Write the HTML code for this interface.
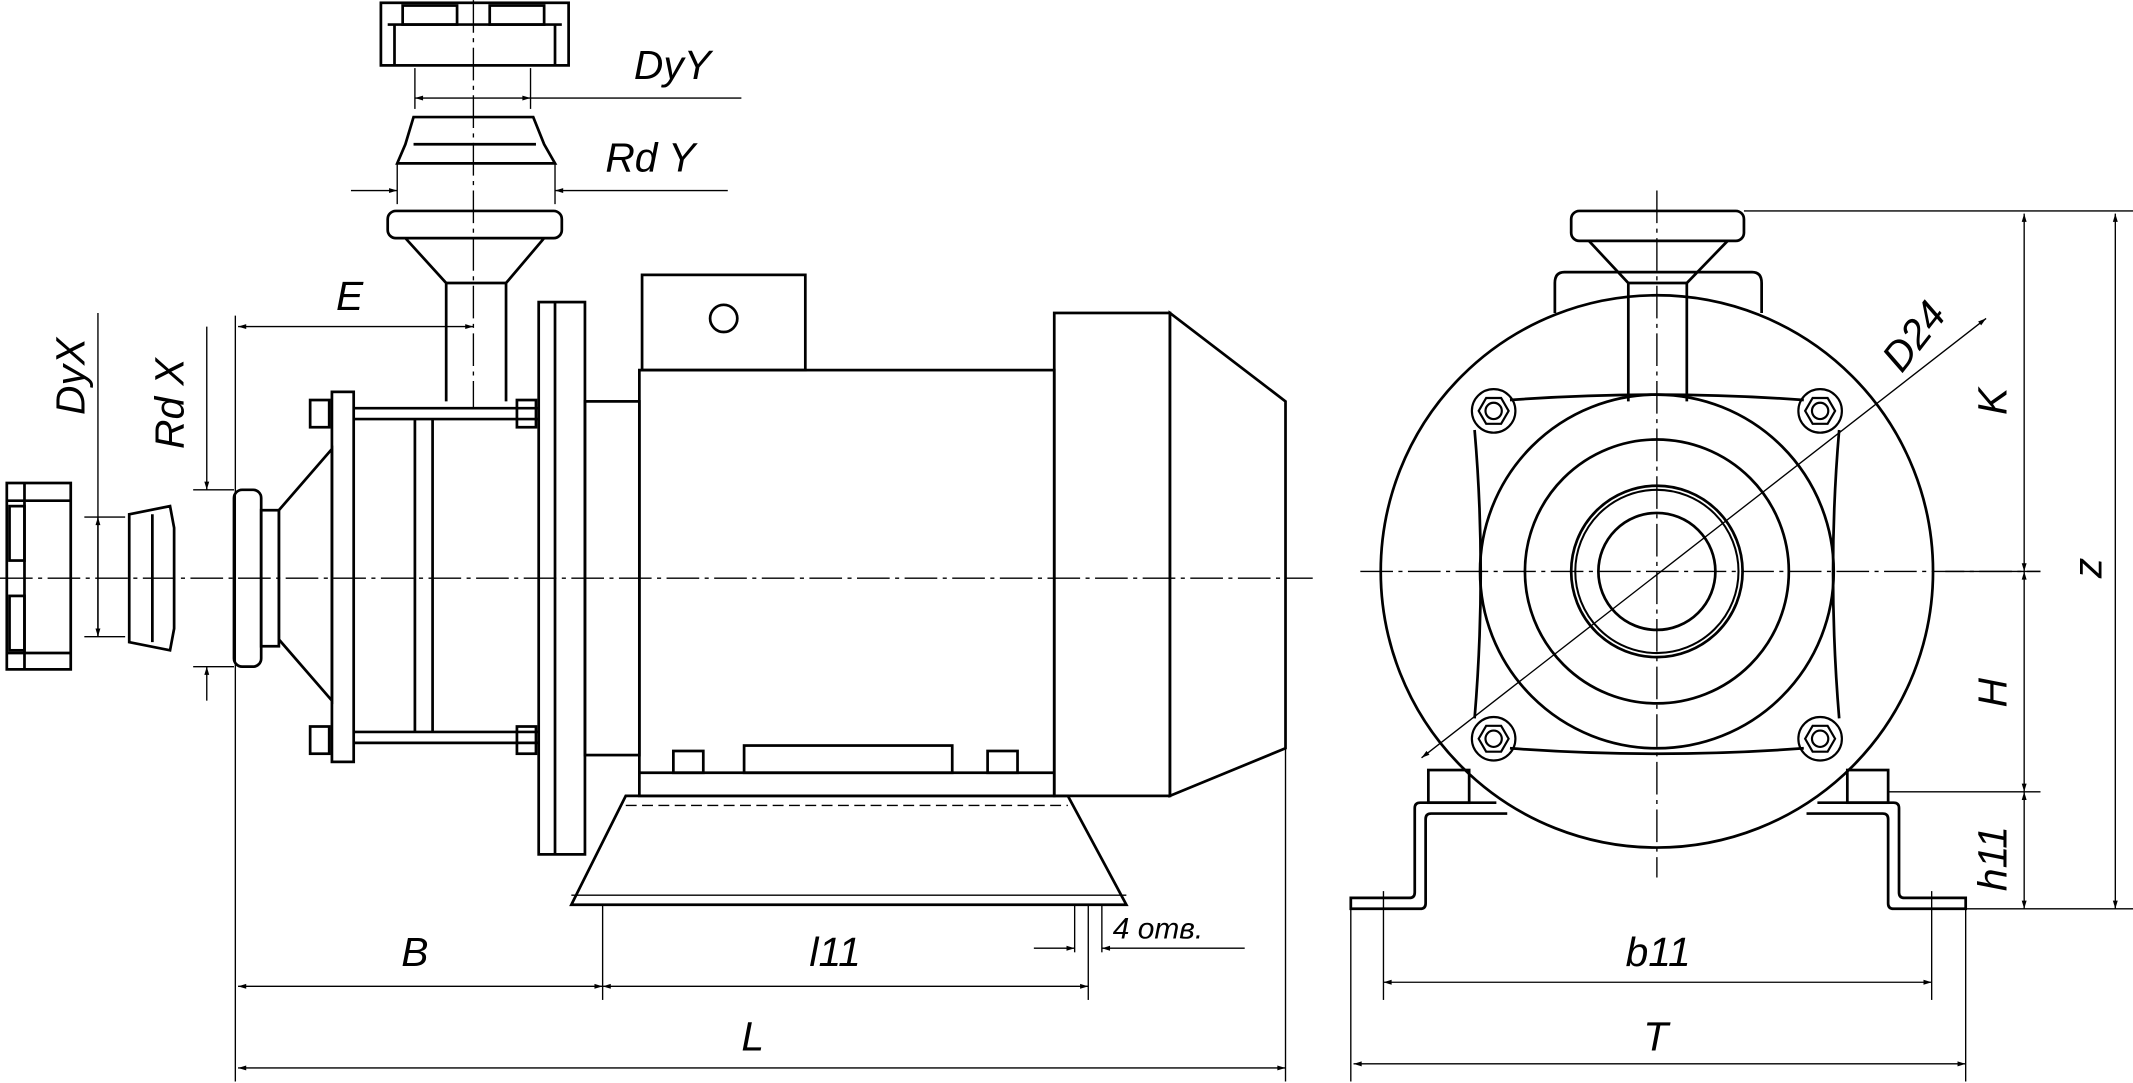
<!DOCTYPE html>
<html><head><meta charset="utf-8"><style>
html,body{margin:0;padding:0;background:#fff;}
svg{display:block}
text{font-family:"Liberation Sans",sans-serif;font-style:italic;fill:#000}
</style></head><body>
<svg width="2133" height="1083" viewBox="0 0 1568 796" xmlns="http://www.w3.org/2000/svg">
<defs>
<marker id="a" viewBox="0 0 10 10" refX="10" refY="5" markerWidth="10" markerHeight="6" orient="auto-start-reverse" markerUnits="userSpaceOnUse"><path d="M0,2 L10,5 L0,8 z" fill="#000"/></marker>
<g id="nut" fill="none" stroke="#000" stroke-width="1.6">
<circle r="16"/><polygon points="11,0 5.5,9.5 -5.5,9.5 -11,0 -5.5,-9.5 5.5,-9.5"/><circle r="6"/>
</g>
</defs>
<g fill="none" stroke="#000" stroke-width="2">
<!-- centerlines -->
<g stroke-width="1" stroke-dasharray="24,4,3,4">
<line x1="0" y1="425" x2="965" y2="425"/>
<line x1="348" y1="0" x2="348" y2="300"/>
<line x1="1000" y1="420" x2="1500" y2="420"/>
<line x1="1218" y1="140" x2="1218" y2="645"/>
</g>
<!-- DyY cap -->
<rect x="280" y="2" width="138" height="46"/>
<line x1="285" y1="18" x2="413" y2="18"/>
<line x1="290" y1="18" x2="290" y2="48"/><line x1="408" y1="18" x2="408" y2="48"/>
<rect x="296" y="4" width="40" height="14"/><rect x="360" y="4" width="40" height="14"/>
<!-- Rd Y -->
<polygon points="304,86 392,86 400,106 408,120 292,120 298,106"/>
<line x1="304" y1="106" x2="394" y2="106"/>
<!-- top flange left -->
<rect x="285" y="155" width="128" height="20" rx="6"/>
<polyline points="298,175 328,208 328,295"/>
<polyline points="400,175 372,208 372,295"/>
<line x1="328" y1="208" x2="372" y2="208"/>
<!-- motor flange -->
<rect x="396" y="222" width="34" height="406"/>
<line x1="408" y1="222" x2="408" y2="628"/>
<rect x="430" y="295" width="40" height="260"/>
<!-- terminal box -->
<rect x="472" y="202" width="120" height="70"/>
<circle cx="532" cy="234" r="10"/>
<!-- motor body -->
<rect x="470" y="272" width="305" height="313"/>
<line x1="470" y1="568" x2="775" y2="568"/>
<rect x="547" y="548" width="153" height="20"/>
<rect x="495" y="552" width="22" height="16"/><rect x="726" y="552" width="22" height="16"/>
<!-- fan -->
<rect x="775" y="230" width="85" height="355"/>
<polygon points="860,230 945,295 945,550 860,585"/>
<!-- base -->
<polygon points="460,585 785,585 828,665 420,665"/>
<line x1="460" y1="592" x2="785" y2="592" stroke-width="1" stroke-dasharray="8,4"/>
<line x1="420" y1="658" x2="828" y2="658" stroke-width="1"/>
<!-- pump -->
<rect x="244" y="288" width="16" height="272"/>
<line x1="260" y1="300" x2="396" y2="300"/><line x1="260" y1="308" x2="396" y2="308"/>
<line x1="260" y1="538" x2="396" y2="538"/><line x1="260" y1="546" x2="396" y2="546"/>
<line x1="305" y1="308" x2="305" y2="538"/><line x1="318" y1="308" x2="318" y2="538"/>
<rect x="228" y="294" width="14" height="20"/><rect x="228" y="534" width="14" height="20"/>
<rect x="380" y="294" width="14" height="20"/><rect x="380" y="534" width="14" height="20"/>
<polygon points="244,330 205,375 205,470 244,515"/>
<rect x="172" y="360" width="20" height="130" rx="6"/>
<rect x="192" y="375" width="13" height="100"/>
<!-- left parts -->
<rect x="5" y="355" width="47" height="137"/>
<line x1="18" y1="355" x2="18" y2="492"/><line x1="5" y1="368" x2="52" y2="368"/><line x1="5" y1="480" x2="52" y2="480"/>
<rect x="7" y="372" width="11" height="40"/><rect x="7" y="438" width="11" height="40"/>
<polygon points="95,378 125,372 128,388 128,462 125,478 95,472"/>
<line x1="112" y1="378" x2="112" y2="472"/>
<!-- right view -->
<circle cx="1218" cy="420" r="203"/>
<circle cx="1218" cy="420" r="130"/>
<circle cx="1218" cy="420" r="97"/>
<circle cx="1218" cy="420" r="63"/>
<circle cx="1218" cy="420" r="60" stroke-width="1.5"/>
<circle cx="1218" cy="420" r="43"/>
<path d="M1110,294 Q1218,286 1326,294"/>
<path d="M1352,316 Q1343,420 1352,528"/>
<path d="M1110,550 Q1218,558 1326,550"/>
<path d="M1084,316 Q1093,420 1084,528"/>
<use href="#nut" x="1098" y="302"/><use href="#nut" x="1338" y="302"/>
<use href="#nut" x="1098" y="543"/><use href="#nut" x="1338" y="543"/>
<path d="M1143,230 L1143,208 Q1143,200 1150,200 L1288,200 Q1295,200 1295,208 L1295,230"/>
<rect x="1155" y="155" width="127" height="22" rx="6"/>
<polyline points="1168,177 1197,208 1197,295"/>
<polyline points="1270,177 1240,208 1240,295"/>
<line x1="1197" y1="208" x2="1240" y2="208"/>
<!-- bracket -->
<path d="M1100,590 L1044,590 Q1040,590 1040,594 L1040,656 Q1040,660 1036,660 L993,660 L993,668 L1044,668 Q1048,668 1048,664 L1048,602 Q1048,598 1052,598 L1108,598"/>
<path d="M1336,590 L1392,590 Q1396,590 1396,594 L1396,656 Q1396,660 1400,660 L1445,660 L1445,668 L1392,668 Q1388,668 1388,664 L1388,602 Q1388,598 1384,598 L1328,598"/>
<rect x="1050" y="566" width="30" height="24"/><rect x="1358" y="566" width="30" height="24"/>
</g>
<!-- dimensions -->
<g fill="none" stroke="#000" stroke-width="1">
<line x1="305" y1="72" x2="390" y2="72" marker-start="url(#a)" marker-end="url(#a)"/>
<line x1="390" y1="72" x2="545" y2="72"/>
<line x1="305" y1="50" x2="305" y2="80"/><line x1="390" y1="50" x2="390" y2="80"/>
<line x1="258" y1="140" x2="292" y2="140" marker-end="url(#a)"/>
<line x1="408" y1="140" x2="535" y2="140" marker-start="url(#a)"/>
<line x1="292" y1="120" x2="292" y2="150"/><line x1="408" y1="120" x2="408" y2="150"/>
<line x1="175" y1="240" x2="348" y2="240" marker-start="url(#a)" marker-end="url(#a)"/>
<line x1="173" y1="232" x2="173" y2="795"/>
<line x1="945" y1="550" x2="945" y2="795"/>
<line x1="443" y1="665" x2="443" y2="735"/>
<line x1="800" y1="665" x2="800" y2="735"/>
<line x1="790" y1="665" x2="790" y2="700"/><line x1="810" y1="665" x2="810" y2="700"/>
<line x1="760" y1="697" x2="790" y2="697" marker-end="url(#a)"/>
<line x1="810" y1="697" x2="915" y2="697" marker-start="url(#a)"/>
<line x1="175" y1="725" x2="443" y2="725" marker-start="url(#a)" marker-end="url(#a)"/>
<line x1="443" y1="725" x2="800" y2="725" marker-start="url(#a)" marker-end="url(#a)"/>
<line x1="175" y1="785" x2="945" y2="785" marker-start="url(#a)" marker-end="url(#a)"/>
<line x1="72" y1="230" x2="72" y2="468"/>
<line x1="72" y1="380" x2="72" y2="468" marker-start="url(#a)" marker-end="url(#a)"/>
<line x1="62" y1="380" x2="92" y2="380"/><line x1="62" y1="468" x2="92" y2="468"/>
<line x1="152" y1="240" x2="152" y2="360" marker-end="url(#a)"/>
<line x1="152" y1="490" x2="152" y2="515" marker-start="url(#a)"/>
<line x1="142" y1="360" x2="172" y2="360"/><line x1="142" y1="490" x2="172" y2="490"/>
<!-- right dims -->
<line x1="1282" y1="155" x2="1568" y2="155"/>
<line x1="1430" y1="420" x2="1500" y2="420"/>
<line x1="1388" y1="582" x2="1500" y2="582"/>
<line x1="1445" y1="668" x2="1568" y2="668"/>
<line x1="1488" y1="157" x2="1488" y2="420" marker-start="url(#a)" marker-end="url(#a)"/>
<line x1="1488" y1="420" x2="1488" y2="582" marker-start="url(#a)" marker-end="url(#a)"/>
<line x1="1488" y1="582" x2="1488" y2="668" marker-start="url(#a)" marker-end="url(#a)"/>
<line x1="1555" y1="157" x2="1555" y2="668" marker-start="url(#a)" marker-end="url(#a)"/>
<line x1="993" y1="668" x2="993" y2="795"/><line x1="1445" y1="668" x2="1445" y2="795"/>
<line x1="1017" y1="655" x2="1017" y2="735"/><line x1="1420" y1="655" x2="1420" y2="735"/>
<line x1="1017" y1="722" x2="1420" y2="722" marker-start="url(#a)" marker-end="url(#a)"/>
<line x1="995" y1="782" x2="1445" y2="782" marker-start="url(#a)" marker-end="url(#a)"/>
<line x1="1045" y1="557" x2="1460" y2="234" marker-start="url(#a)" marker-end="url(#a)"/>
</g>
<!-- labels -->
<g font-size="30">
<text x="466" y="58">DyY</text>
<text x="445" y="126">Rd Y</text>
<text x="247" y="228">E</text>
<text x="295" y="710">B</text>
<text x="595" y="710">l11</text>
<text x="545" y="772">L</text>
<text x="1195" y="710">b11</text>
<text x="1208" y="772">T</text>
<text font-size="22" x="818" y="690">4 отв.</text>
<text transform="translate(62,305) rotate(-90)">DyX</text>
<text transform="translate(135,330) rotate(-90)">Rd X</text>
<text transform="translate(1475,305) rotate(-90)">K</text>
<text transform="translate(1475,520) rotate(-90)">H</text>
<text transform="translate(1475,655) rotate(-90)">h11</text>
<text transform="translate(1545,425) rotate(-90)">z</text>
<text transform="translate(1398,275) rotate(-52)">D24</text>
</g>
</svg>
</body></html>
